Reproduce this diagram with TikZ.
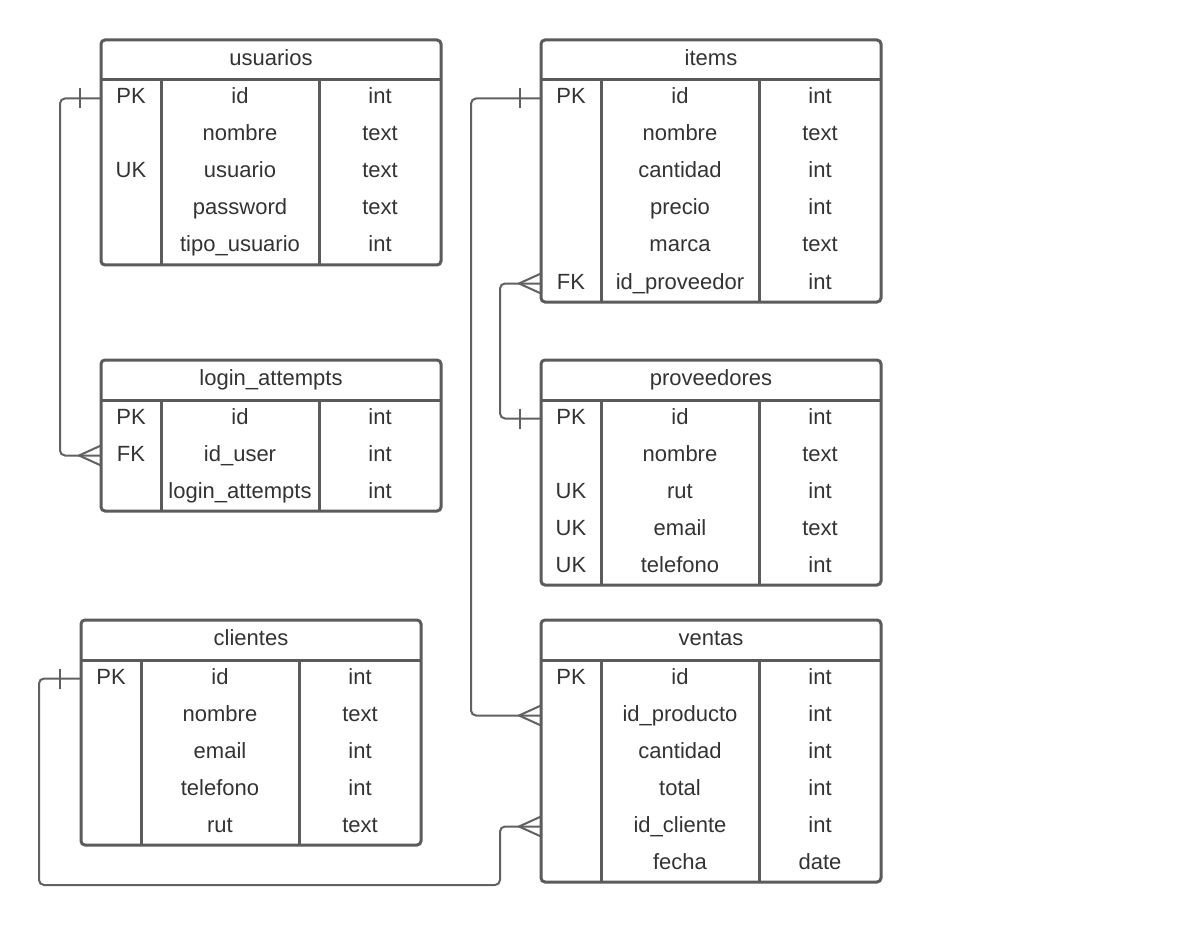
\documentclass[tikz,border=0pt]{standalone}
\usepackage{fontspec}
\setmainfont{Liberation Sans}
\usetikzlibrary{calc}
\definecolor{edge}{HTML}{5B5B5B}
\definecolor{lnk}{HTML}{616161}
\definecolor{txt}{HTML}{333333}
\tikzset{
  tablebox/.style={draw=edge, line width=3pt, rounded corners=4pt, inner sep=0pt, outer sep=0pt, minimum width=340pt, anchor=north west},
  tline/.style={draw=edge, line width=3pt},
  cell/.style={inner sep=0pt, outer sep=0pt, minimum height=37pt, text height=16pt, text depth=5pt, text=txt, font=\fontsize{22pt}{26pt}\selectfont},
  conn/.style={draw=lnk, line width=2pt, rounded corners=5pt},
  endmark/.style={draw=lnk, line width=2pt}
}
% name, left, top, number of rows, title, rows
\newcommand\ertable[6]{%
  \node[tablebox, minimum height={40pt+37pt*#4}] (#1) at (#2,#3) {};
  \draw[tline] ($(#1.north west)+(0,40)$) -- ($(#1.north east)+(0,40)$);
  \draw[tline] ($(#1.north west)+(60,40)$) -- ($(#1.south west)+(60,0)$);
  \draw[tline] ($(#1.north west)+(218,40)$) -- ($(#1.south west)+(218,0)$);
  \node[cell, minimum width=340pt, minimum height=40pt] (#1-h) at ({#2+170},{#3+20}) {#5};
  \foreach \k/\n/\t [count=\i] in {#6} {
    \node[cell, minimum width=60pt] (#1-k\i) at ({#2+30},{#3+40+37*\i-18.5}) {\k};
    \node[cell, minimum width=158pt] (#1-n\i) at ({#2+139},{#3+40+37*\i-18.5}) {\n};
    \node[cell, minimum width=122pt] (#1-t\i) at ({#2+279},{#3+40+37*\i-18.5}) {\t};
  }%
}
\newcommand\crowfoot[1]{%
  \draw[endmark] ($(#1)+(0,-10)$) -- ($(#1)+(-22,0)$) -- ($(#1)+(0,10)$);
}
\newcommand\onemark[1]{%
  \draw[endmark] ($(#1)+(-21,-10)$) -- ($(#1)+(-21,10)$);
}
\begin{document}
\begin{tikzpicture}[x=1pt,y=-1pt]
\useasboundingbox (0,0) rectangle (1188,925);

\ertable{usuarios}{101}{40}{5}{usuarios}{PK/id/int, {}/nombre/text, UK/usuario/text, {}/password/text, {}/tipo\_usuario/int}
\ertable{login}{101}{360}{3}{login\_attempts}{PK/id/int, FK/id\_user/int, {}/login\_attempts/int}
\ertable{clientes}{81}{620}{5}{clientes}{PK/id/int, {}/nombre/text, {}/email/int, {}/telefono/int, {}/rut/text}
\ertable{items}{541}{40}{6}{items}{PK/id/int, {}/nombre/text, {}/cantidad/int, {}/precio/int, {}/marca/text, FK/id\_proveedor/int}
\ertable{proveedores}{541}{360}{5}{proveedores}{PK/id/int, {}/nombre/text, UK/rut/int, UK/email/text, UK/telefono/int}
\ertable{ventas}{541}{620}{6}{ventas}{PK/id/int, {}/id\_producto/int, {}/cantidad/int, {}/total/int, {}/id\_cliente/int, {}/fecha/date}

% usuarios -> login_attempts
\draw[conn] (usuarios-k1.west) -- ++(-41,0) |- (login-k2.west);
\onemark{usuarios-k1.west}
\crowfoot{login-k2.west}

% items -> ventas
\draw[conn] (items-k1.west) -- ++(-70,0) |- (ventas-k2.west);
\onemark{items-k1.west}
\crowfoot{ventas-k2.west}

% proveedores -> items
\draw[conn] (items-k6.west) -- ++(-41,0) |- (proveedores-k1.west);
\crowfoot{items-k6.west}
\onemark{proveedores-k1.west}

% clientes -> ventas
\coordinate (cbend) at (500,885);
\draw[conn] (clientes-k1.west) -- ++(-42,0) |- (cbend) |- (ventas-k5.west);
\onemark{clientes-k1.west}
\crowfoot{ventas-k5.west}
\end{tikzpicture}
\end{document}
